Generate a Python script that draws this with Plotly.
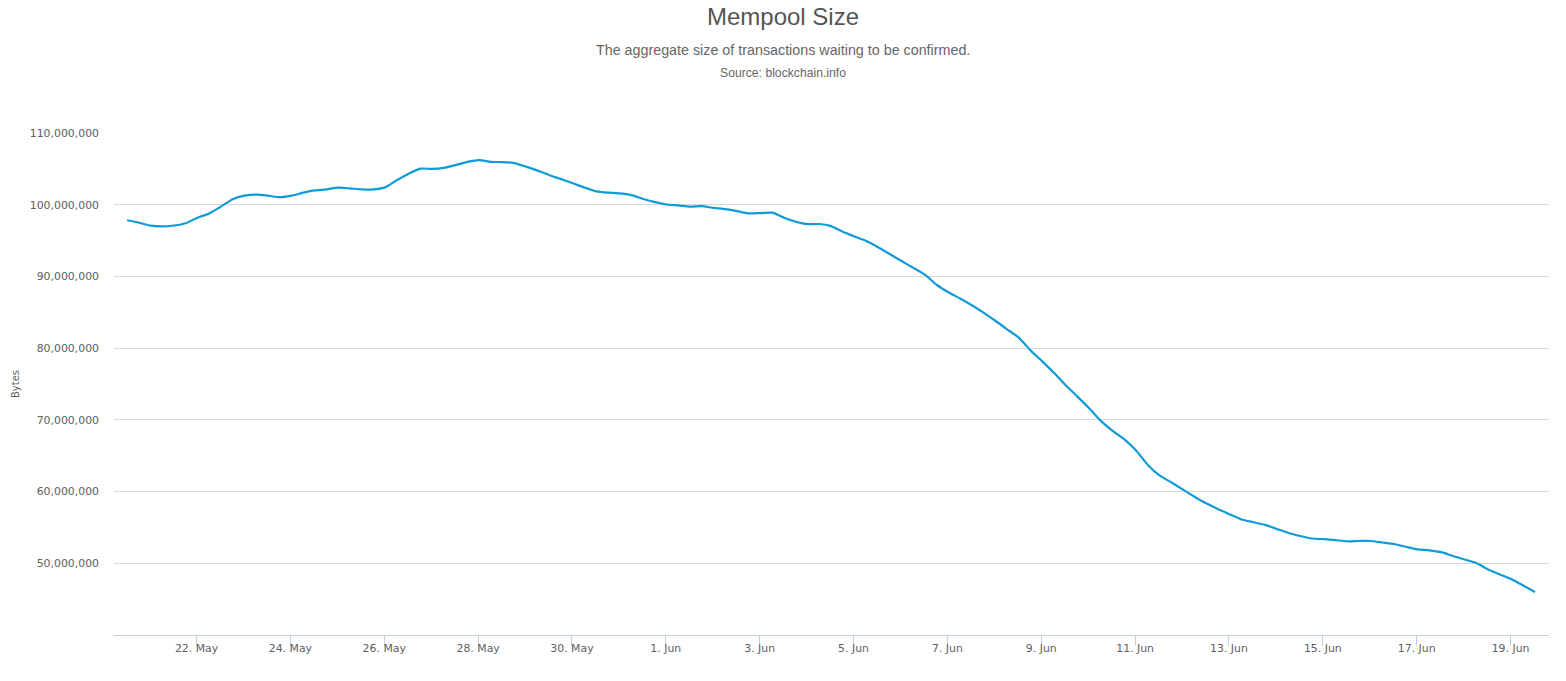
import pandas as pd
import plotly.graph_objects as go

# one reading every 6 hours
timestamps = pd.date_range("2017-05-20 12:30", periods=121, freq="6h")
mempool_mb = [
    97.83, 97.49, 97.08, 96.98, 97.10, 97.42, 98.19, 98.79, 99.73, 100.77,
    101.26, 101.40, 101.26, 101.05, 101.26, 101.68, 102.00, 102.14, 102.38, 102.28,
    102.13, 102.14, 102.42, 103.43, 104.33, 105.03, 104.99, 105.13, 105.52, 105.97,
    106.22, 105.98, 105.94, 105.80, 105.31, 104.75, 104.12, 103.57, 102.98, 102.38,
    101.86, 101.68, 101.58, 101.33, 100.80, 100.36, 100.03, 99.90, 99.73, 99.80,
    99.56, 99.39, 99.10, 98.79, 98.83, 98.89, 98.19, 97.63, 97.29, 97.31,
    97.01, 96.24, 95.58, 94.94, 94.08, 93.13, 92.15, 91.21, 90.24, 88.84,
    87.79, 86.92, 85.98, 84.96, 83.82, 82.63, 81.47, 79.69, 78.16, 76.56,
    74.82, 73.24, 71.61, 69.86, 68.46, 67.28, 65.74, 63.72, 62.25, 61.28,
    60.27, 59.25, 58.33, 57.55, 56.81, 56.10, 55.72, 55.35, 54.79, 54.23,
    53.81, 53.46, 53.36, 53.22, 53.07, 53.11, 53.11, 52.90, 52.69, 52.30,
    51.93, 51.81, 51.55, 51.02, 50.53, 50.04, 49.13, 48.44, 47.77, 46.90,
    45.99,
]
mempool_bytes = [v * 1e6 for v in mempool_mb]

fig = go.Figure(go.Scatter(x=timestamps, y=mempool_bytes, mode="lines",
                           line=dict(color="#0F9BD8", width=2.2, shape="spline", smoothing=0.6)))

label_font = dict(family="DejaVu Sans", size=10.9, color="#606060")

fig.update_layout(
    width=1566, height=681,
    margin=dict(l=114, r=17, t=133, b=46),
    paper_bgcolor="white", plot_bgcolor="white",
    showlegend=False,
    title=dict(text="Mempool Size", x=0.5, xanchor="center", y=0.975, yanchor="middle",
               font=dict(family="Liberation Sans", size=24, color="#555555")),
    xaxis=dict(type="date", range=["2017-05-20 05:48", "2017-06-19 19:40"],
               tick0="2017-05-22", dtick=172800000, tickformat="%-d. %b",
               showgrid=False, zeroline=False, showline=True, linecolor="#C0D0E0", linewidth=1,
               ticks="outside", ticklen=10, tickcolor="#C0D0E0", tickwidth=1,
               ticklabelstandoff=-7, tickfont=label_font),
    yaxis=dict(range=[40e6, 110e6], tickformat=",d",
               showgrid=True, gridcolor="#D8D8D8", gridwidth=1, zeroline=False, showline=False,
               ticks="", ticklabelstandoff=14, tickfont=label_font,
               tickvals=[50e6, 60e6, 70e6, 80e6, 90e6, 100e6, 110e6]),
    annotations=[
        dict(text="The aggregate size of transactions waiting to be confirmed.",
             xref="paper", yref="paper", x=0.4662, y=(635 - 50) / 502,
             xanchor="center", yanchor="middle", showarrow=False,
             font=dict(family="Liberation Sans", size=14.3, color="#666666")),
        dict(text="Source: blockchain.info",
             xref="paper", yref="paper", x=0.4662, y=(635 - 73) / 502,
             xanchor="center", yanchor="middle", showarrow=False,
             font=dict(family="Liberation Sans", size=12.2, color="#666666")),
        dict(text="Bytes", textangle=-90,
             xref="paper", yref="paper", x=(15 - 114) / 1435, y=(635 - 384) / 502,
             xanchor="center", yanchor="middle", showarrow=False,
             font=dict(family="DejaVu Sans", size=10, color="#606060")),
    ],
)

fig.write_html("out.html", config={"displayModeBar": False},
               post_script="document.body.style.margin='0';document.body.style.overflow='hidden';")
